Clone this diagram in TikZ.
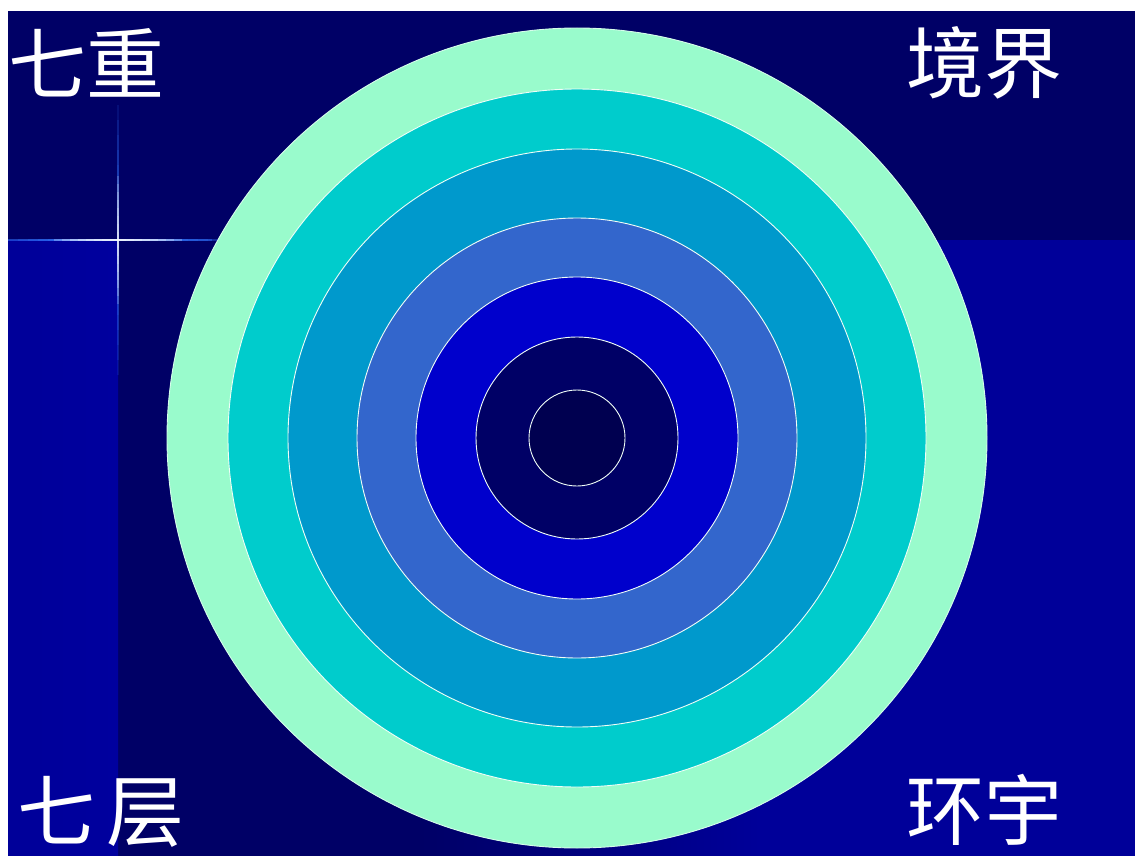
\documentclass[tikz,border=0pt]{standalone}
\usepackage{fontspec}
\newfontfamily\cjk{Noto Sans CJK SC}
\definecolor{bgnavy}{HTML}{000066}
\definecolor{bgblue}{HTML}{000099}
\definecolor{stripblue}{HTML}{00009E}
\definecolor{ringA}{HTML}{99FBCC}
\definecolor{ringB}{HTML}{00CCCC}
\definecolor{ringC}{HTML}{0099CC}
\definecolor{ringD}{HTML}{3366CC}
\definecolor{ringE}{HTML}{0000CC}
\definecolor{ringF}{HTML}{000066}
\definecolor{ringG}{HTML}{000050}
\definecolor{glow}{HTML}{3377FF}
\begin{document}
\begin{tikzpicture}[x=1pt,y=-1pt,
  ring/.style={draw=white!85!ringA, line width=0.9pt},
  glowline/.style={draw=glow, line width=2.6pt, opacity=0.2},
  coreline/.style={draw=white, line width=1.2pt, opacity=0.25},
  lbl/.style={text=white, font=\cjk\fontsize{78}{78}\selectfont, inner sep=0pt, anchor=center}]
\useasboundingbox (0,0) rectangle (1135,856);
\fill[white] (0,0) rectangle (1135,856);
\fill[bgnavy] (8,11) rectangle (1135,856);
% lower background panels
\shade[left color=bgnavy, right color=bgblue] (420,240) rectangle (760,856);
\fill[bgblue] (760,240) rectangle (1135,856);
\shade[left color=bgblue, right color=stripblue] (8,240) rectangle (118,856);
% glowing cross
\coordinate (star) at (118,240);
\foreach \L in {20,30,...,110}{
  \draw[glowline] ([xshift=-\L pt]star) -- ([xshift=\L pt]star);
}
\foreach \L in {30,45,...,135}{
  \draw[glowline, opacity=0.13] ([yshift=-\L pt]star) -- ([yshift=\L pt]star);
}
\draw[glow, line width=2.8pt, opacity=0.4] (8,240) -- (212,240);
\foreach \L in {8,16,...,64}{
  \draw[coreline] ([xshift=-\L pt]star) -- ([xshift=\L pt]star);
  \draw[coreline, opacity=0.18] ([yshift=-\L pt]star) -- ([yshift=\L pt]star);
}
% concentric rings
\coordinate (c) at (577,438);
\fill[ringA] (c) circle (410);
\draw[ring, draw=white!60!ringA] (c) circle (410);
\filldraw[ring, fill=ringB] (c) circle (349);
\filldraw[ring, fill=ringC] (c) circle (289);
\filldraw[ring, fill=ringD] (c) circle (220);
\filldraw[ring, fill=ringE] (c) circle (161);
\filldraw[ring, fill=ringF] (c) circle (101);
\filldraw[ring, fill=ringG] (c) circle (48);
% labels
\node[lbl] (tl) at (87,63) {七重};
\node[lbl] (tr) at (984,63) {境界};
\node[lbl] (bl) at (101,812) {七\hspace{12pt}层};
\node[lbl] (br) at (984,810) {环宇};
\end{tikzpicture}
\end{document}
